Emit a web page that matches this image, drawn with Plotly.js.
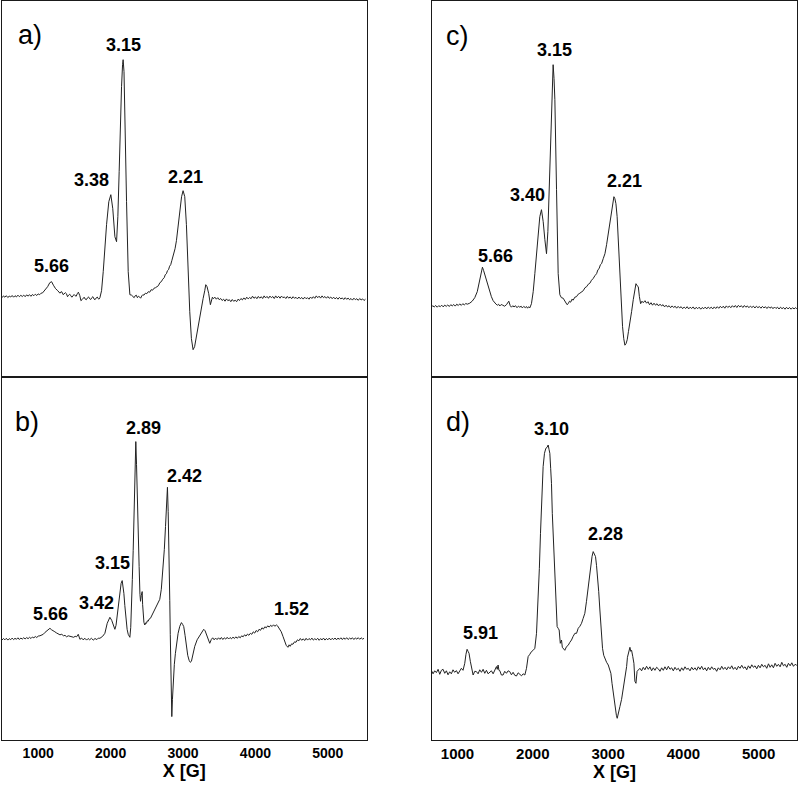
<!DOCTYPE html>
<html>
<head>
<meta charset="utf-8">
<script src="https://cdn.plot.ly/plotly-3.0.1.min.js"></script>
<style>html,body{margin:0;padding:0;background:#fff;}#chart{width:800px;height:793px;}</style>
</head>
<body>
<div id="chart"></div>
<script>
// ---------------- DATA (field in G, intensity in arbitrary units, baseline = 0) ----------------
const xTickValues = [1000, 2000, 3000, 4000, 5000];
const xTickLabels = ['1000', '2000', '3000', '4000', '5000'];
const panelLabels = ['a)', 'b)', 'c)', 'd)'];
const peakLabelsA = ['5.66', '3.38', '3.15', '2.21'];
const peakLabelsB = ['5.66', '3.42', '3.15', '2.89', '2.42', '1.52'];
const peakLabelsC = ['5.66', '3.40', '3.15', '2.21'];
const peakLabelsD = ['5.91', '3.10', '2.28'];

const spectrumA = [[500,-1],[520,0.8],[540,-0.5],[560,1],[580,-0.8],[600,0.5],[620,-0.3],[640,1.2],[660,-0.5],[680,1],[700,-0.2],[720,1.5],[740,0],[760,1.4],[780,0.2],[800,1.6],[820,0],[840,1.8],[860,0.6],[880,2],[900,0.4],[920,2.2],[940,1],[960,2.5],[980,1.2],[1000,2.8],[1020,2],[1040,3.5],[1060,3.8],[1080,5.5],[1100,6.5],[1130,10],[1160,14],[1185,15],[1210,11.5],[1240,8],[1270,6],[1300,3.5],[1315,5],[1330,4.5],[1345,2],[1360,3],[1375,4],[1390,3],[1405,0],[1420,1.5],[1435,2.5],[1450,1],[1465,-0.5],[1480,0.8],[1495,2.2],[1510,1],[1525,0.5],[1540,3],[1555,4.5],[1575,1],[1590,-4],[1605,-3],[1620,-1.5],[1635,-0.5],[1650,-2.5],[1665,-3],[1680,-1.2],[1695,-0.2],[1710,-2],[1725,-2.8],[1740,-1],[1755,0],[1770,-2.2],[1785,-3],[1800,-1.3],[1815,-0.3],[1830,-2],[1840,-2.5],[1852,-1],[1875,6],[1898,25],[1920,50],[1944,72],[1975,95],[2003,102],[2030,88],[2059,60],[2082,55],[2100,80],[2118,125],[2135,175],[2151,210],[2165,232],[2173,237],[2185,225],[2197,190],[2210,140],[2220,95],[2243,25],[2266,2],[2290,1.5],[2312,0],[2325,-1],[2340,1],[2355,1.5],[2370,-1],[2385,0.5],[2403,-0.5],[2415,-1.5],[2430,0.8],[2445,2],[2460,1.5],[2480,3.5],[2500,3],[2520,5],[2541,4.5],[2560,7],[2580,6.5],[2600,8.5],[2620,9],[2640,10.5],[2660,11],[2680,14],[2700,15],[2720,17.5],[2740,19],[2755,22],[2771,23],[2785,26],[2800,27],[2815,30.5],[2830,32],[2845,36],[2863,40],[2875,43],[2890,48],[2909,56],[2935,72],[2955,86],[2980,100],[3001,106],[3024,100],[3047,72],[3070,25],[3093,-15],[3116,-42],[3139,-53],[3160,-50],[3176,-43],[3200,-32],[3231,-20],[3255,-10],[3277,-2],[3300,6],[3314,12],[3332,10],[3355,3],[3378,-8],[3406,-0.5],[3420,-2],[3440,-0.5],[3460,-2.5],[3480,-1],[3500,-3],[3520,-1.8],[3540,-3.8],[3560,-2.5],[3580,-4.5],[3600,-2.2],[3620,-4],[3640,-3],[3660,-5],[3680,-2.8],[3700,-4.6],[3720,-3.5],[3740,-5],[3760,-2.5],[3780,-3.8],[3800,-1.8],[3820,-3.2],[3840,-1.2],[3860,-2.8],[3880,-0.5],[3900,-2.2],[3920,-0.8],[3940,-2],[3960,0.5],[3980,-1.6],[4000,-0.2],[4020,-2],[4040,0.3],[4060,-1.5],[4080,0],[4100,-1.8],[4120,0.8],[4140,-1.2],[4160,0.3],[4180,-1.6],[4200,0.6],[4220,-1],[4240,0.2],[4260,-1.8],[4280,0.8],[4300,-1.2],[4320,0.4],[4340,-1.5],[4360,0.6],[4380,-1],[4400,-0.2],[4420,-1.8],[4440,0.3],[4460,-1.5],[4480,-0.2],[4500,-2],[4520,0],[4540,-1.6],[4560,-0.6],[4580,-2.2],[4600,-0.3],[4620,-2],[4640,-0.8],[4660,-2.4],[4680,-0.5],[4700,-2],[4720,-1],[4740,-2.5],[4760,-0.3],[4780,-1.8],[4800,0],[4820,-1.6],[4840,0.8],[4860,-1],[4880,0.5],[4900,-1.4],[4920,0.8],[4940,-1],[4960,0.2],[4980,-1.5],[5000,0.2],[5020,-1.6],[5040,-0.3],[5060,-2],[5080,-0.5],[5100,-2.2],[5120,-0.8],[5140,-2.5],[5160,-0.7],[5180,-2.2],[5200,-1.2],[5220,-2.8],[5240,-1],[5260,-2.6],[5280,-1.4],[5300,-3],[5320,-1.8],[5340,-3.4],[5360,-1.5],[5380,-3],[5400,-2],[5420,-3.6],[5440,-1.8],[5460,-3.2],[5480,-2.2],[5500,-3.8],[5520,-2.5]];

const spectrumB = [[500,-0.7],[520,0.8],[540,-0.5],[560,1],[580,-0.8],[600,0.7],[620,-0.4],[640,1.2],[660,-0.3],[680,1],[700,0],[720,1.5],[740,-0.2],[760,1.3],[780,0.2],[800,1.6],[820,0.3],[840,1.8],[860,0.6],[880,2],[900,0.8],[920,2.3],[940,1.5],[960,2.8],[980,1.8],[1000,3.2],[1024,3.5],[1047,4.2],[1070,5],[1095,7],[1116,8],[1140,10],[1162,11],[1185,9.5],[1208,8],[1230,7.5],[1250,6.5],[1275,5.5],[1300,4.5],[1325,5],[1350,3.5],[1370,4],[1392,2.5],[1415,3.5],[1440,3],[1465,3.2],[1490,2],[1510,3],[1530,2.5],[1553,5],[1576,0],[1600,1.2],[1620,-0.5],[1645,1],[1668,-0.8],[1690,0.8],[1710,-0.5],[1735,1],[1760,-0.8],[1785,0.8],[1810,-0.3],[1830,1.2],[1852,1],[1890,3],[1921,6],[1953,16],[1990,22],[2015,19],[2036,15],[2059,10],[2075,14],[2091,23],[2110,38],[2128,48],[2145,56],[2160,58.7],[2172,54],[2183,46],[2196,34],[2210,22],[2228,10],[2243,5],[2255,3],[2266,2],[2278,12],[2289,30],[2300,60],[2312,89],[2325,125],[2335,156],[2348,197.7],[2358,175],[2367,139],[2380,100],[2394,72.7],[2405,45],[2413,38],[2424,44],[2436,47.7],[2442,35],[2449,25],[2460,17],[2472,14.3],[2485,16.5],[2495,16],[2507,18.5],[2518,18],[2535,20.5],[2550,21],[2570,24],[2587,25],[2605,28.5],[2620,30],[2640,34],[2656,36],[2679,40],[2700,50],[2725,70],[2742,90],[2758,112.7],[2772,135],[2785,152],[2795,128],[2803,106],[2810,80],[2817,39],[2824,5],[2831,-20.7],[2838,-50],[2845,-77.3],[2854,-60],[2863,-44],[2880,-25],[2895,-14],[2914,-3],[2932,6],[2955,13],[2978,16.7],[2994,15],[3010,12.7],[3028,4],[3047,-7.3],[3065,-16],[3084,-21],[3100,-23],[3116,-22],[3140,-14],[3162,-7],[3195,-0.5],[3231,4],[3260,8],[3286,10],[3305,8.5],[3323,5],[3346,1],[3369,-4],[3392,0],[3410,1.5],[3430,-0.5],[3450,1.2],[3470,-0.3],[3490,1.5],[3510,0],[3530,1.8],[3550,-0.2],[3570,1.5],[3590,0.2],[3610,2],[3630,0.3],[3650,1.8],[3670,0.5],[3690,2.2],[3710,0.8],[3730,2.5],[3750,1],[3770,2.8],[3790,1.5],[3810,3.5],[3830,2.5],[3850,4.5],[3870,3.2],[3890,5.2],[3910,4],[3930,6],[3950,5],[3970,7.5],[3990,6.2],[4010,8.8],[4030,7.5],[4050,10],[4070,9],[4090,11.5],[4110,10.2],[4130,12.5],[4150,11.5],[4170,13.5],[4190,12.2],[4210,14],[4230,12.8],[4250,14.5],[4270,13],[4290,14.5],[4305,13.5],[4330,11],[4357,7.5],[4380,3],[4403,-2.3],[4425,-6],[4449,-8],[4465,-5.5],[4480,-7],[4500,-4.5],[4518,-5],[4540,-2.5],[4560,-3],[4580,-0.5],[4600,-1.5],[4620,0.8],[4640,-1],[4660,0.5],[4680,-1.2],[4700,1],[4720,-0.8],[4740,0.8],[4760,-0.5],[4780,1.2],[4800,-0.8],[4820,0.6],[4840,-0.5],[4860,1],[4880,-1],[4900,0.7],[4920,-0.6],[4940,1.2],[4960,-0.8],[4980,0.8],[5000,-0.5],[5020,1.2],[5040,-0.6],[5060,1],[5080,-0.2],[5100,1.3],[5120,-0.5],[5140,1.2],[5160,0],[5180,1.5],[5200,-0.3],[5220,1.4],[5240,0],[5260,1.6],[5280,-0.2],[5300,1.2],[5320,0.2],[5340,1.5],[5360,-0.2],[5380,1.4],[5400,0.2],[5420,1.6],[5440,0],[5460,1.5],[5480,0.2],[5500,1]];

const spectrumC = [[652,-0.5],[670,1],[690,-0.3],[710,1.2],[730,-0.5],[750,1],[770,0],[790,1.5],[810,-0.2],[830,1.6],[850,0.3],[870,1.8],[890,0.2],[910,2],[930,0.8],[950,2.2],[970,0.6],[990,2.5],[1010,1.2],[1030,2.8],[1050,1.3],[1070,3],[1090,1.8],[1110,3.2],[1130,2.5],[1162,3.5],[1195,5.5],[1229,9],[1262,15],[1295,27],[1315,35],[1331,39.5],[1347,36],[1362,32],[1385,25],[1406,19],[1428,14],[1450,10],[1473,6],[1495,3.5],[1512,2.5],[1530,1.5],[1545,2.5],[1561,0.7],[1580,2.2],[1600,1.5],[1625,0.5],[1650,2],[1668,3.5],[1681,5.5],[1700,1],[1716,-0.5],[1735,1],[1750,-0.3],[1770,1],[1790,-1],[1810,0.6],[1827,-0.5],[1845,0.5],[1860,-1.2],[1880,0.3],[1900,-1],[1915,0.2],[1930,-1.5],[1945,0],[1960,-1.2],[1982,3],[2005,15],[2027,33],[2050,55],[2071,73],[2093,90],[2115,97],[2138,85],[2160,67],[2182,53],[2200,75],[2217,117],[2233,160],[2248,200],[2260,228],[2270,242],[2282,228],[2293,207],[2315,117],[2337,33],[2359,12],[2380,9],[2403,8.5],[2420,6],[2437,5],[2455,2],[2470,3],[2487,5.5],[2503,4.5],[2520,7.5],[2536,6.5],[2558,9.5],[2580,10],[2603,12.5],[2625,13.5],[2648,14.5],[2670,16],[2693,19],[2715,20],[2737,22.5],[2758,23.5],[2780,26.5],[2800,28],[2825,31],[2847,33],[2865,37],[2880,38],[2898,42],[2913,43],[2935,48],[2958,53],[2980,62],[3002,73],[3025,85],[3046,97],[3062,105],[3077,110],[3090,108],[3104,103],[3120,90],[3135,67],[3150,42],[3166,17],[3180,-2],[3192,-20],[3208,-32],[3223,-38.5],[3238,-37],[3254,-33],[3270,-25],[3290,-17],[3312,-5],[3334,7],[3352,16],[3370,23],[3385,21],[3401,20],[3416,10],[3432,3],[3450,5.5],[3467,4],[3490,6],[3511,3.5],[3530,5],[3550,2],[3570,4],[3590,1.5],[3610,3.5],[3630,1.5],[3650,3],[3670,0.8],[3690,2.5],[3710,0.8],[3730,2],[3750,-0.2],[3770,1.5],[3790,-0.3],[3810,1],[3830,-1],[3850,0.8],[3870,-0.8],[3890,0.5],[3910,-1.5],[3930,0.3],[3950,-1.2],[3970,0],[3990,-2],[4010,-0.3],[4030,-1.8],[4050,0],[4070,-2.2],[4090,-0.5],[4110,-1.8],[4130,-0.2],[4150,-2.4],[4170,-0.6],[4190,-2],[4210,-0.5],[4230,-2.5],[4250,-0.8],[4270,-2],[4290,-0.4],[4310,-2.2],[4330,-0.3],[4350,-1.8],[4370,-0.5],[4390,-2.2],[4410,-0.2],[4430,-1.8],[4450,0],[4470,-1.6],[4490,0.4],[4510,-1.2],[4530,0.5],[4550,-1.5],[4570,0.8],[4590,-0.8],[4610,0.6],[4630,-1],[4650,1],[4670,-0.5],[4690,1.2],[4710,-0.8],[4730,1.3],[4750,-0.2],[4770,1],[4790,-0.8],[4810,1.2],[4830,-0.5],[4850,0.8],[4870,-1],[4890,0.6],[4910,-0.8],[4930,0.5],[4950,-1.3],[4970,0.5],[4990,-1],[5010,0.2],[5030,-1.5],[5050,0.3],[5070,-1.2],[5090,0],[5110,-1.8],[5130,0],[5150,-1.5],[5170,-0.2],[5190,-2],[5210,-0.3],[5230,-1.8],[5250,-0.5],[5270,-2.3],[5290,-0.5],[5310,-2],[5330,-0.8],[5350,-2.5],[5370,-0.6],[5390,-2.2],[5410,-0.8],[5430,-2.5],[5450,-1],[5470,-2.2],[5490,-1],[5506,-2]];

const spectrumD = [[652,3],[675,-0.5],[697,2.5],[719,0.7],[742,4],[764,-1],[786,3],[808,4],[830,0],[852,2.5],[874,-1.5],[896,1.5],[918,-0.5],[940,3.5],[962,1],[985,2.7],[1007,-0.5],[1029,3],[1051,5],[1073,3],[1096,10],[1112,19],[1127,24],[1140,22],[1153,20],[1170,12],[1184,6.7],[1196,0],[1207,-1.7],[1229,2],[1251,1.7],[1273,-0.5],[1295,3.5],[1318,1],[1340,4],[1362,0],[1384,3],[1406,-0.5],[1428,0.7],[1450,2.5],[1473,-0.5],[1495,3],[1517,6.7],[1528,4],[1539,8.3],[1550,3],[1561,2.7],[1583,-1.7],[1605,-1.7],[1627,2],[1650,0],[1672,2.5],[1694,1.7],[1716,-1.5],[1738,1],[1760,-2],[1783,-2.7],[1805,0.5],[1827,-1.5],[1850,-2.5],[1872,-0.5],[1894,-1.7],[1916,5],[1938,16.7],[1960,19],[1982,21.7],[2005,23],[2027,25],[2049,40],[2071,73.3],[2087,105],[2102,140],[2120,175],[2137,206.7],[2155,220],[2173,225],[2190,226],[2204,228.3],[2215,224],[2226,220],[2237,205],[2248,190],[2259,160],[2270,140],[2282,115],[2293,90],[2308,65],[2323,46.7],[2337,45],[2350,43.3],[2365,30],[2381,33.3],[2392,26],[2403,25],[2425,23],[2448,26.7],[2470,28],[2492,31],[2514,33.3],[2536,37],[2559,40],[2581,40],[2603,45],[2625,47],[2647,50],[2669,55],[2691,60],[2713,72],[2736,86.7],[2753,98],[2771,110],[2787,117],[2802,121.7],[2818,119],[2833,116.7],[2846,108],[2860,96.7],[2875,82],[2891,63.3],[2908,42],[2926,25],[2942,18],[2957,15],[2980,11],[3002,8.3],[3020,5],[3037,0],[3052,-10],[3068,-20],[3084,-28],[3099,-36.7],[3110,-42],[3121,-45],[3139,-40],[3157,-33.3],[3179,-26],[3201,-16.7],[3223,-5],[3246,6.7],[3257,16],[3268,20],[3279,23],[3290,26],[3301,22],[3312,23],[3327,17],[3343,10],[3356,-8],[3370,-10],[3385,2],[3401,3],[3423,5],[3445,2.5],[3467,6],[3489,3.5],[3511,7],[3534,4],[3556,6.5],[3578,2.5],[3600,5.5],[3622,3],[3644,6],[3667,4.5],[3689,2],[3711,5.5],[3733,3],[3755,6.5],[3778,3.5],[3800,7],[3822,4],[3844,5.5],[3866,2.5],[3888,6],[3910,3.5],[3933,5],[3955,2],[3977,5.5],[3999,3],[4021,6.5],[4043,4],[4065,5],[4088,2.5],[4110,6],[4132,3.5],[4154,5.5],[4176,3],[4198,6.5],[4221,4],[4243,7],[4265,3.5],[4287,5.5],[4309,2.5],[4331,6],[4354,3.5],[4376,6.5],[4398,4],[4420,5],[4442,2],[4464,5.5],[4487,3.5],[4509,7],[4531,4],[4553,6],[4575,3.5],[4597,6.5],[4620,4.5],[4642,7.5],[4664,4],[4686,6],[4708,3.5],[4730,7],[4752,5],[4775,8],[4797,5],[4819,6.5],[4841,3.5],[4863,7.5],[4886,5],[4908,8.5],[4930,6],[4952,7.5],[4974,4.5],[4996,8],[5019,5.5],[5041,9],[5063,6.5],[5085,8],[5107,5],[5130,9.5],[5152,6],[5174,8.5],[5196,5.5],[5218,10],[5240,7],[5262,9],[5285,6.5],[5307,11],[5329,7.5],[5351,9],[5373,6],[5395,10],[5418,7.5],[5440,10.5],[5462,7],[5484,9],[5506,8]];

// ---------------- LAYOUT / STYLE ----------------
const W = 800, H = 793;
const FONT = 'Arial, "Liberation Sans", Helvetica, sans-serif';
const px = v => v / W;
const py = v => 1 - v / H;

function trace(spec, xa, ya) {
  return {
    x: spec.map(p => p[0]), y: spec.map(p => p[1]),
    xaxis: xa, yaxis: ya, type: 'scatter', mode: 'lines',
    line: {color: '#222', width: 1}, hoverinfo: 'skip', showlegend: false
  };
}

const data = [
  trace(spectrumA, 'x', 'y'),
  trace(spectrumB, 'x2', 'y2'),
  trace(spectrumC, 'x3', 'y3'),
  trace(spectrumD, 'x4', 'y4')
];

const base = {showgrid: false, zeroline: false, showline: true, mirror: true,
  linecolor: '#1a1a1a', linewidth: 1.2, ticks: '', showticklabels: false, fixedrange: true};

const leftDom = [px(2), px(366.5)];
const rightDom = [px(432), px(797)];
const topDom = [py(377), py(1)];
const botDom = [py(740), py(377)];
const leftRange = [500, 5534];
const rightRange = [661, 5509];

function bottomX(dom, range, anchor, fs) {
  return Object.assign({}, base, {
    domain: dom, range: range, anchor: anchor, showticklabels: true,
    tickvals: xTickValues, ticktext: xTickLabels,
    tickfont: {family: FONT, size: fs, color: '#000', weight: 'bold'},
    title: {text: 'X [G]', font: {family: FONT, size: 18, color: '#000', weight: 'bold'}, standoff: 4}
  });
}

const layout = {
  width: W, height: H,
  margin: {l: 0, r: 0, t: 0, b: 0},
  paper_bgcolor: '#fff', plot_bgcolor: '#fff',
  showlegend: false,
  xaxis: Object.assign({}, base, {domain: leftDom, range: leftRange, anchor: 'y'}),
  yaxis: Object.assign({}, base, {domain: topDom, range: [-80.3, 295.7], anchor: 'x'}),
  xaxis2: bottomX(leftDom, leftRange, 'y2', 14),
  yaxis2: Object.assign({}, base, {domain: botDom, range: [-100.7, 262.3], anchor: 'x2'}),
  xaxis3: Object.assign({}, base, {domain: rightDom, range: rightRange, anchor: 'y3'}),
  yaxis3: Object.assign({}, base, {domain: topDom, range: [-70.3, 305.7], anchor: 'x3'}),
  xaxis4: bottomX(rightDom, rightRange, 'y4', 15),
  yaxis4: Object.assign({}, base, {domain: botDom, range: [-66.7, 296.3], anchor: 'x4'}),
  annotations: []
};

function label(text, x, y, size, bold) {
  layout.annotations.push({
    text: text, xref: 'paper', yref: 'paper', x: px(x), y: py(y),
    xanchor: 'center', yanchor: 'middle', showarrow: false,
    font: {family: FONT, size: size, color: '#000', weight: bold ? 'bold' : 'normal'}
  });
}

// panel letters
const panelPos = [[30, 35], [27, 422], [457, 36], [458, 422]];
panelLabels.forEach((t, i) => label(t, panelPos[i][0], panelPos[i][1], 27, false));

// peak g-value labels
const posA = [[51.5, 266], [91.5, 180], [123.3, 45], [185.3, 177]];
const posB = [[50.3, 613.7], [96.8, 602.7], [112.5, 563.3], [143.3, 427.8], [184.5, 476.2], [291.5, 608.8]];
const posC = [[495, 256.3], [527.8, 195], [554.5, 49.7], [624.2, 181.3]];
const posD = [[480, 633], [551.7, 429.2], [605.3, 533.8]];
peakLabelsA.forEach((t, i) => label(t, posA[i][0], posA[i][1], 18, true));
peakLabelsB.forEach((t, i) => label(t, posB[i][0], posB[i][1], 18, true));
peakLabelsC.forEach((t, i) => label(t, posC[i][0], posC[i][1], 18, true));
peakLabelsD.forEach((t, i) => label(t, posD[i][0], posD[i][1], 18, true));

Plotly.newPlot('chart', data, layout, {staticPlot: true, displayModeBar: false});
</script>
</body>
</html>
